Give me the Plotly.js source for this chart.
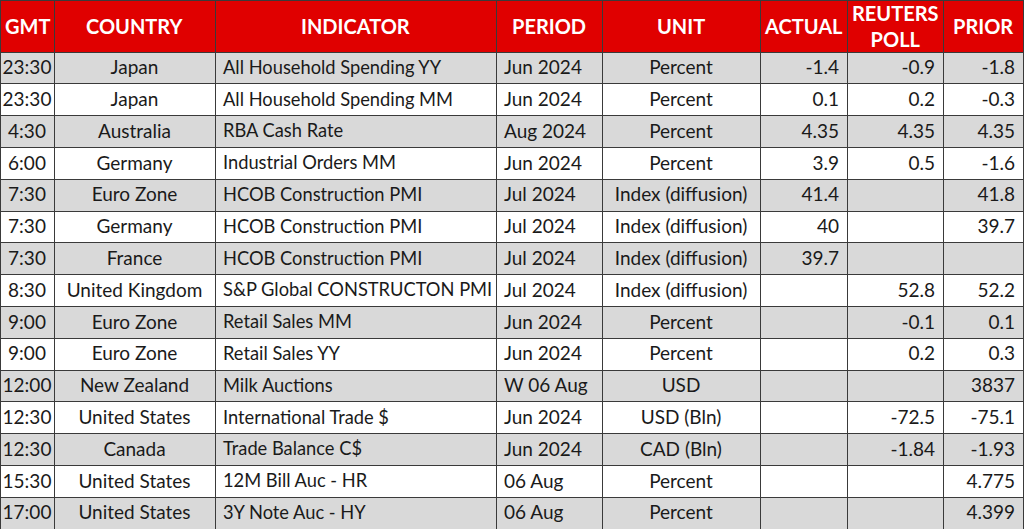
<!DOCTYPE html>
<html>
<head>
<meta charset="utf-8">
<script src="https://cdn.plot.ly/plotly-3.0.1.min.js"></script>
<style>
  html, body { margin: 0; padding: 0; background: #fff; }
  #calendar { width: 1024px; height: 530px; }
</style>
</head>
<body>
<div id="calendar"></div>
<script>
var headers = ['GMT', 'COUNTRY', 'INDICATOR', 'PERIOD', 'UNIT', 'ACTUAL', 'REUTERS<br>POLL', 'PRIOR'];

var gmt = ['23:30', '23:30', '4:30', '6:00', '7:30', '7:30', '7:30', '8:30', '9:00', '9:00',
    '12:00', '12:30', '12:30', '15:30', '17:00'];
var country = ['Japan', 'Japan', 'Australia', 'Germany', 'Euro Zone', 'Germany', 'France',
    'United Kingdom', 'Euro Zone', 'Euro Zone', 'New Zealand', 'United States', 'Canada',
    'United States', 'United States'];
var indicator = ['All Household Spending YY', 'All Household Spending MM', 'RBA Cash Rate',
    'Industrial Orders MM', 'HCOB Construction PMI', 'HCOB Construction PMI', 'HCOB Construction PMI',
    'S&P Global CONSTRUCTON PMI', 'Retail Sales MM', 'Retail Sales YY', 'Milk Auctions',
    'International Trade $', 'Trade Balance C$', '12M Bill Auc - HR', '3Y Note Auc - HY'];
var period = ['Jun 2024', 'Jun 2024', 'Aug 2024', 'Jun 2024', 'Jul 2024', 'Jul 2024', 'Jul 2024',
    'Jul 2024', 'Jun 2024', 'Jun 2024', 'W 06 Aug', 'Jun 2024', 'Jun 2024', '06 Aug', '06 Aug'];
var unit = ['Percent', 'Percent', 'Percent', 'Percent', 'Index (diffusion)', 'Index (diffusion)',
    'Index (diffusion)', 'Index (diffusion)', 'Percent', 'Percent', 'USD', 'USD (Bln)', 'CAD (Bln)',
    'Percent', 'Percent'];
var actual = ['-1.4', '0.1', '4.35', '3.9', '41.4', '40', '39.7', '', '', '', '', '', '', '', ''];
var poll = ['-0.9', '0.2', '4.35', '0.5', '', '', '', '52.8', '-0.1', '0.2', '', '-72.5', '-1.84', '', ''];
var prior = ['-1.8', '-0.3', '4.35', '-1.6', '41.8', '39.7', '', '52.2', '0.1', '0.3', '3837',
    '-75.1', '-1.93', '4.775', '4.399'];

// pixel widths of the columns (they add up to the table width)
var colWidths = [54, 161, 281, 106, 158, 87, 96, 80];
var cellAlign = ['center', 'center', 'left', 'left', 'center', 'right', 'right', 'right'];
// indicator column slightly smaller so the long S&P name fits on one line
var cellSizes = [19, 19, 18.3, 19, 19, 19, 19, 19];
var HEADER_H = 52;
var ROW_H = 31.8;
var FONT = 'Lato, "Open Sans", sans-serif';

var rawColumns = [gmt, country, indicator, period, unit, actual, poll, prior];

// plotly wraps table text at plain spaces -> use non-breaking spaces.
// A '&' in a cell value makes plotly re-measure (and grow) the row, so the
// part up to the '&' goes into the cell prefix, which is drawn as plain text.
var prefixes = rawColumns.map(function (col) {
    return col.map(function (s) {
        var k = s.lastIndexOf('&');
        return k < 0 ? '' : s.slice(0, k + 1).replace(/ /g, '\u00a0');
    });
});
var columns = rawColumns.map(function (col) {
    return col.map(function (s) {
        var k = s.lastIndexOf('&');
        return s.slice(k + 1).replace(/ /g, '\u00a0');
    });
});

// alternating grey / white rows, starting with grey
var rowColors = gmt.map(function (d, i) { return i % 2 === 0 ? '#D9D9D9' : '#FFFFFF'; });
var fillColors = columns.map(function () { return rowColors; });

var trace = {
    type: 'table',
    columnwidth: colWidths,
    domain: { x: [0, 1], y: [0, 1] },
    header: {
        values: headers.map(function () { return ''; }),
        height: HEADER_H,
        fill: { color: '#E00000' },
        line: { color: '#3a3a3a', width: 1 },
        font: { family: FONT, size: 20, color: '#ffffff' }
    },
    cells: {
        values: columns,
        prefix: prefixes,
        align: cellAlign,
        height: ROW_H,
        fill: { color: fillColors },
        line: { color: '#3a3a3a', width: 1 },
        font: { family: FONT, size: cellSizes, color: '#1a1a1a' }
    }
};

// header labels, vertically centred in the red band
var totalW = colWidths.reduce(function (a, b) { return a + b; }, 0);
var tableH = HEADER_H + ROW_H * gmt.length;
var annotations = [];
var left = 0;
headers.forEach(function (h, i) {
    annotations.push({
        xref: 'paper', yref: 'paper',
        x: (left + colWidths[i] / 2) / totalW,
        y: 1 - (HEADER_H / 2) / tableH,
        xanchor: 'center', yanchor: 'middle',
        text: '<b>' + h + '</b>',
        showarrow: false,
        font: { family: FONT, size: 20, color: '#ffffff' }
    });
    left += colWidths[i];
});

var layout = {
    width: 1024,
    height: 530,
    margin: { l: 0, r: 1, t: 0, b: 530 - tableH },
    paper_bgcolor: '#fff',
    annotations: annotations
};

Plotly.newPlot('calendar', [trace], layout, { displayModeBar: false, staticPlot: true });
</script>
</body>
</html>
